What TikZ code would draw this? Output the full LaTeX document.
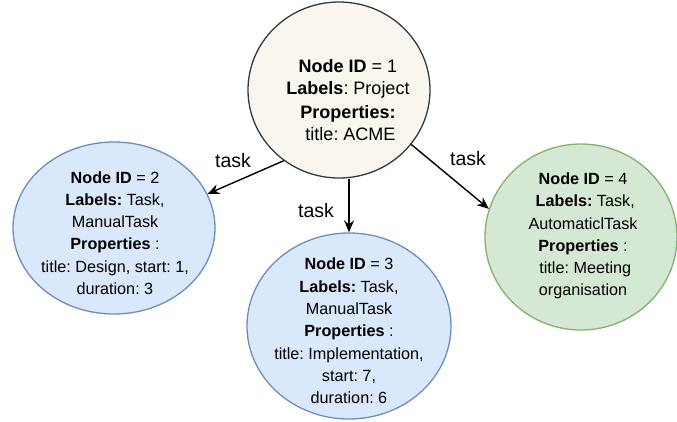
\documentclass[tikz,border=0pt]{standalone}
\usepackage{fontspec}
\setmainfont{Liberation Sans}
\usetikzlibrary{shapes.geometric,arrows.meta}
\definecolor{projfill}{HTML}{F9F7ED}
\definecolor{projdraw}{HTML}{36393D}
\definecolor{bluefill}{HTML}{DAE8FC}
\definecolor{bluedraw}{HTML}{6C8EBF}
\definecolor{greenfill}{HTML}{D5E8D4}
\definecolor{greendraw}{HTML}{82B366}
\tikzset{
  gnode/.style={ellipse, inner sep=0pt, line width=1.3pt},
  gtext/.style={align=center, font=\fontsize{16.2}{22.3}\selectfont, inner sep=0pt},
  bigtext/.style={align=center, font=\fontsize{18}{22.5}\selectfont, inner sep=0pt},
  rel/.style={line width=1.4pt, -{Stealth[length=12pt,width=10pt]}},
  rellabel/.style={font=\fontsize{19.5}{22}\selectfont, inner sep=0pt},
}
\begin{document}
\frenchspacing
\begin{tikzpicture}[x=1pt,y=-1pt]
\useasboundingbox (0,0) rectangle (677,421);
% ellipses
\node[gnode, draw=projdraw, fill=projfill, minimum width=182pt, minimum height=176pt] (n1) at (339,90) {};
\node[gnode, draw=bluedraw, fill=bluefill, minimum width=202pt, minimum height=172pt] (n2) at (114,228) {};
\node[gnode, draw=bluedraw, fill=bluefill, minimum width=204pt, minimum height=186pt] (n3) at (349,326) {};
\node[gnode, draw=greendraw, fill=greenfill, minimum width=192pt, minimum height=186pt] (n4) at (581,237) {};
% texts
\node[bigtext] (t1) at (348,100) {\textbf{Node ID} = 1\\\textbf{Labels}: Project\\[1pt]\textbf{Properties:}\\\ title: ACME};
\node[gtext] (t2) at (115,233) {\textbf{Node ID} = 2\\\textbf{Labels:} Task,\\ManualTask\\\textbf{Properties} :\\title: Design, start: 1,\\duration: 3};
\node[gtext] (t3) at (349,331) {\textbf{Node ID} = 3\\\textbf{Labels:} Task,\\ManualTask\\\textbf{Properties} :\\title: Implementation,\\start: 7,\\duration: 6};
\node[gtext] (t4) at (583,236) {\textbf{Node ID} = 4\\\ \textbf{Labels:} Task,\\AutomaticlTask\\\textbf{Properties} :\\\ title: Meeting\\organisation};
% connectors
\draw[rel] (n1.232) -- (n2.20);
\draw[rel] (n3.north |- n1.south) -- (n3.north);
\draw[rel] (n1.-37) -- (n4.163);
% labels
\node[rellabel] (l2) at (233,161) {task};
\node[rellabel] (l3) at (316,211) {task};
\node[rellabel] (l4) at (468,159) {task};
\end{tikzpicture}
\end{document}
